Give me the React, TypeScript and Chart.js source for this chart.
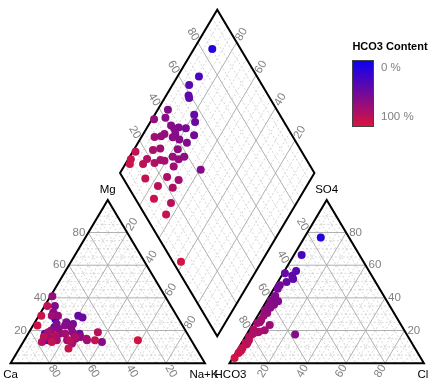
import { useEffect, useRef } from "react";
import { Chart, registerables } from "chart.js";

Chart.register(...registerables);

// ---- data (percent of meq) ----
const naK = [9.5, 11, 8.6, 11.5, 12.6, 5.3, 1, 6.4, 20.3, 23, 11.7, 16.2, 14.3, 20.1, 6.7, 9.9, 10.9, 16.1, 16.5, 20.2, 26.5, 25.1, 1.4, 9.9, 13.1, 22.4, 1.3, 2.3, 9.1, 9.6, 14.7, 16.8, 19.1, 22.1, 25.9, 28, 25.6, 40.5, 14.7, 23.5, 25.4, 31.6, 32.3, 25.3, 35.4, 36.4, 58.5];
const mg = [27, 14, 18, 22, 14, 35, 41, 31, 29, 28, 24, 25, 21, 24, 29, 29, 20, 18, 23, 22, 18, 16, 35, 19, 15, 19, 29, 23, 16, 13, 17, 14, 18, 14, 15, 16, 12, 13, 13, 14, 16, 15, 14, 9, 19, 14, 14];
const ca = [63.5, 75, 73.4, 66.5, 73.4, 59.7, 58, 62.6, 50.7, 49, 64.3, 58.8, 64.7, 55.9, 64.3, 61.1, 69.1, 65.9, 60.5, 57.8, 55.5, 58.9, 63.6, 71.1, 71.9, 58.6, 69.7, 74.7, 74.9, 77.4, 68.3, 69.2, 62.9, 63.9, 59.1, 56, 62.4, 46.5, 72.3, 62.5, 58.6, 53.4, 53.7, 65.7, 45.6, 49.6, 27.5];
const hco3 = [14.6, 29.8, 37.5, 41, 41.5, 56, 66, 59.7, 44, 45.8, 59.2, 55.9, 58.5, 52.4, 71.2, 67.6, 65.2, 61.9, 59.6, 59.2, 50.3, 56.3, 85.5, 76, 71.8, 63, 90.2, 92.2, 85.4, 81.8, 79.2, 75.2, 73.4, 67.9, 65.6, 62, 70.4, 57.5, 88.7, 84.5, 77, 77.4, 72, 90.4, 83, 89, 95.8];
const cl = [8.5, 4, 6, 5.5, 7, 6, 3, 4, 1, 4.5, 5, 3, 4, 2, 3, 9, 4, 3, 2, 3, 2, 3, 2, 5, 8, 3, 2, 1.5, 3, 2, 3, 5.5, 2, 3, 2, 4, 3, 25, 2, 3, 4, 2, 3, 2, 3, 2, 1];
const so4 = [76.9, 66.2, 56.5, 53.5, 51.5, 38, 31, 36.3, 55, 49.7, 35.8, 41.1, 37.5, 45.6, 25.8, 23.4, 30.8, 35.1, 38.4, 37.8, 47.7, 40.7, 12.5, 19, 20.2, 34, 7.8, 6.3, 11.6, 16.2, 17.8, 19.3, 24.6, 29.1, 32.4, 34, 26.6, 17.5, 9.3, 12.5, 19, 20.6, 25, 7.6, 14, 9, 3.2];

const tickValues = [20, 40, 60, 80];
const minorValues = [5, 10, 15, 25, 30, 35, 45, 50, 55, 65, 70, 75, 85, 90, 95];
const cationNames = ["Ca", "Mg", "Na+K"];
const anionNames = ["HCO3", "SO4", "Cl"];
const legendTitle = "HCO3 Content";
const legendTicks = ["0 %", "100 %"];

// ---- layout geometry (data units) ----
const GAP = 0.1263;
const DY = 0.1644;
const X_MIN = -0.03384;
const X_MAX = 2.17828;
const Y_MIN = -0.13977;
const Y_MAX = 2.19976;

type P = { x: number; y: number };
const catTri: P[] = [{ x: 0, y: 0 }, { x: 0.5, y: 1 }, { x: 1, y: 0 }]; // Ca, Mg, Na+K
const anTri: P[] = [{ x: 1 + GAP, y: 0 }, { x: 1.5 + GAP, y: 1 }, { x: 2 + GAP, y: 0 }]; // HCO3, SO4, Cl
const dB: P = { x: 1 + GAP / 2, y: DY };
const dL: P = { x: dB.x - 0.5, y: DY + 1 };
const dT: P = { x: dB.x, y: DY + 2 };
const dR: P = { x: dB.x + 0.5, y: DY + 1 };

function tern(tri: P[], w0: number, w1: number, w2: number): P {
  const s = w0 + w1 + w2;
  return {
    x: (w0 * tri[0].x + w1 * tri[1].x + w2 * tri[2].x) / s,
    y: (w0 * tri[0].y + w1 * tri[1].y + w2 * tri[2].y) / s,
  };
}
// a = SO4+Cl %, b = Ca+Mg %
function dia(a: number, b: number): P {
  return {
    x: dB.x + (a / 100) * (dR.x - dB.x) + (b / 100) * (dL.x - dB.x),
    y: dB.y + (a / 100) * (dR.y - dB.y) + (b / 100) * (dL.y - dB.y),
  };
}

function colorFor(h: number): string {
  const t = Math.max(0, Math.min(1, h / 100));
  const r = Math.round(10 + 210 * t);
  const g = Math.round(0 + 20 * t);
  const b = Math.round(245 - 185 * t);
  return `rgb(${r},${g},${b})`;
}

const FONT_FAMILY = "'Liberation Sans', Arial, sans-serif";
const TICK_FONT = `11.5px ${FONT_FAMILY}`;

const piperPlugin = {
  id: "piper",
  beforeDatasetsDraw(chart: any) {
    const ctx: CanvasRenderingContext2D = chart.ctx;
    const xs = chart.scales.x;
    const ys = chart.scales.y;
    const px = (p: P): [number, number] => [xs.getPixelForValue(p.x), ys.getPixelForValue(p.y)];
    const line = (a: P, b: P) => {
      const [x1, y1] = px(a);
      const [x2, y2] = px(b);
      ctx.beginPath();
      ctx.moveTo(x1, y1);
      ctx.lineTo(x2, y2);
      ctx.stroke();
    };
    const triLines = (tri: P[], v: number) => {
      for (let k = 0; k < 3; k++) {
        const i = (k + 1) % 3;
        const j = (k + 2) % 3;
        const w1 = [0, 0, 0];
        const w2 = [0, 0, 0];
        w1[k] = v; w1[i] = 100 - v;
        w2[k] = v; w2[j] = 100 - v;
        line(tern(tri, w1[0], w1[1], w1[2]), tern(tri, w2[0], w2[1], w2[2]));
      }
    };
    const diaLines = (v: number) => {
      line(dia(v, 0), dia(v, 100));
      line(dia(0, v), dia(100, v));
    };

    ctx.save();
    // minor grid
    ctx.strokeStyle = "#d6d6d6";
    ctx.lineWidth = 1;
    ctx.setLineDash([2, 2]);
    for (const v of minorValues) {
      triLines(catTri, v);
      triLines(anTri, v);
      diaLines(v);
    }
    // major grid
    ctx.setLineDash([]);
    ctx.strokeStyle = "#b0b0b0";
    for (const v of tickValues) {
      triLines(catTri, v);
      triLines(anTri, v);
      diaLines(v);
    }
    // frames
    ctx.strokeStyle = "#000";
    ctx.lineWidth = 2;
    ctx.lineJoin = "miter";
    const poly = (pts: P[]) => {
      ctx.beginPath();
      pts.forEach((p, idx) => {
        const [x, y] = px(p);
        if (idx === 0) ctx.moveTo(x, y);
        else ctx.lineTo(x, y);
      });
      ctx.closePath();
      ctx.stroke();
    };
    poly(catTri);
    poly(anTri);
    poly([dB, dR, dT, dL]);

    // angles
    const [cx0, cy0] = px(catTri[0]);
    const [cx1, cy1] = px(catTri[1]);
    const [cx2, cy2] = px(catTri[2]);
    const angUp = Math.atan2(cy1 - cy0, cx1 - cx0);
    const angDown = Math.atan2(cy2 - cy1, cx2 - cx1);

    ctx.font = TICK_FONT;
    ctx.fillStyle = "#808080";
    ctx.textBaseline = "middle";
    const rotLabel = (p: P, ang: number, align: CanvasTextAlign, off: number, text: string) => {
      const [x, y] = px(p);
      ctx.save();
      ctx.translate(x, y);
      ctx.rotate(ang);
      ctx.textAlign = align;
      ctx.fillText(text, off, 0);
      ctx.restore();
    };
    for (const v of tickValues) {
      const t = String(v);
      // cation triangle
      const pm = px(tern(catTri, 100 - v, v, 0));
      ctx.textAlign = "right";
      ctx.fillText(t, pm[0] - 3, pm[1]);
      rotLabel(tern(catTri, 0, 100 - v, v), angUp, "left", 3, t);
      rotLabel(tern(catTri, v, 0, 100 - v), angDown, "left", 3, t);
      // anion triangle
      const ps = px(tern(anTri, 0, v, 100 - v));
      ctx.textAlign = "left";
      ctx.fillText(t, ps[0] + 3, ps[1]);
      rotLabel(tern(anTri, v, 100 - v, 0), angDown, "right", -3, t);
      rotLabel(tern(anTri, 100 - v, 0, v), angUp, "right", -3, t);
      // diamond
      rotLabel(dia(v, 100), angDown, "right", -3, t);
      rotLabel(dia(100, v), angUp, "left", 3, t);
    }

    // vertex names
    ctx.font = `11.5px ${FONT_FAMILY}`;
    ctx.fillStyle = "#000";
    ctx.textAlign = "center";
    const [mgx, mgy] = px(catTri[1]);
    ctx.fillText(cationNames[1], mgx, mgy - 10);
    const [sox, soy] = px(anTri[1]);
    ctx.fillText(anionNames[1], sox, soy - 10);
    const [cax, cay] = px(catTri[0]);
    ctx.fillText(cationNames[0], cax, cay + 12);
    const [nax, nay] = px(catTri[2]);
    ctx.fillText(cationNames[2], nax - 1, nay + 12);
    const [hx, hy] = px(anTri[0]);
    ctx.fillText(anionNames[0], hx + 1, hy + 12);
    const [clx, cly] = px(anTri[2]);
    ctx.fillText(anionNames[2], clx - 1, cly + 12);

    // colour legend
    ctx.font = `bold 11px ${FONT_FAMILY}`;
    ctx.textAlign = "center";
    ctx.fillText(legendTitle, 390, 47);
    const grad = ctx.createLinearGradient(0, 60, 0, 127);
    grad.addColorStop(0, colorFor(0));
    grad.addColorStop(0.5, colorFor(50));
    grad.addColorStop(1, colorFor(100));
    ctx.fillStyle = grad;
    ctx.fillRect(352, 60, 22, 67);
    ctx.strokeStyle = "#444";
    ctx.lineWidth = 1;
    ctx.strokeRect(352.5, 60.5, 21, 66);
    ctx.font = TICK_FONT;
    ctx.fillStyle = "#808080";
    ctx.textAlign = "left";
    ctx.fillText(legendTicks[0], 381, 68);
    ctx.fillText(legendTicks[1], 381, 117);
    ctx.restore();
  },
};

export default function App() {
  const ref = useRef<HTMLCanvasElement | null>(null);
  useEffect(() => {
    if (!ref.current) return;
    const n = naK.length;
    const catPts: P[] = [];
    const anPts: P[] = [];
    const diaPts: P[] = [];
    const colors: string[] = [];
    for (let i = 0; i < n; i++) {
      catPts.push(tern(catTri, ca[i], mg[i], naK[i]));
      anPts.push(tern(anTri, hco3[i], so4[i], cl[i]));
      diaPts.push(dia(so4[i] + cl[i], ca[i] + mg[i]));
      colors.push(colorFor(hco3[i]));
    }
    const ds = (data: P[]) => ({
      type: "scatter" as const,
      data,
      pointRadius: 4,
      pointBorderWidth: 0,
      pointBackgroundColor: colors,
      pointBorderColor: colors,
      showLine: false,
    });
    const chart = new Chart(ref.current, {
      type: "scatter",
      data: { datasets: [ds(catPts), ds(anPts), ds(diaPts)] as any },
      options: {
        animation: false,
        responsive: false,
        events: [],
        layout: { padding: 0 },
        plugins: { legend: { display: false }, tooltip: { enabled: false } },
        scales: {
          x: { type: "linear", min: X_MIN, max: X_MAX, display: false, bounds: "data" },
          y: { type: "linear", min: Y_MIN, max: Y_MAX, display: false, bounds: "data" },
        },
      },
      plugins: [piperPlugin],
    });
    return () => chart.destroy();
  }, []);
  return (
    <div style={{ position: "absolute", left: 0, top: 0, width: 438, height: 390 }}>
      <canvas ref={ref} width={438} height={390} style={{ display: "block" }} />
    </div>
  );
}
